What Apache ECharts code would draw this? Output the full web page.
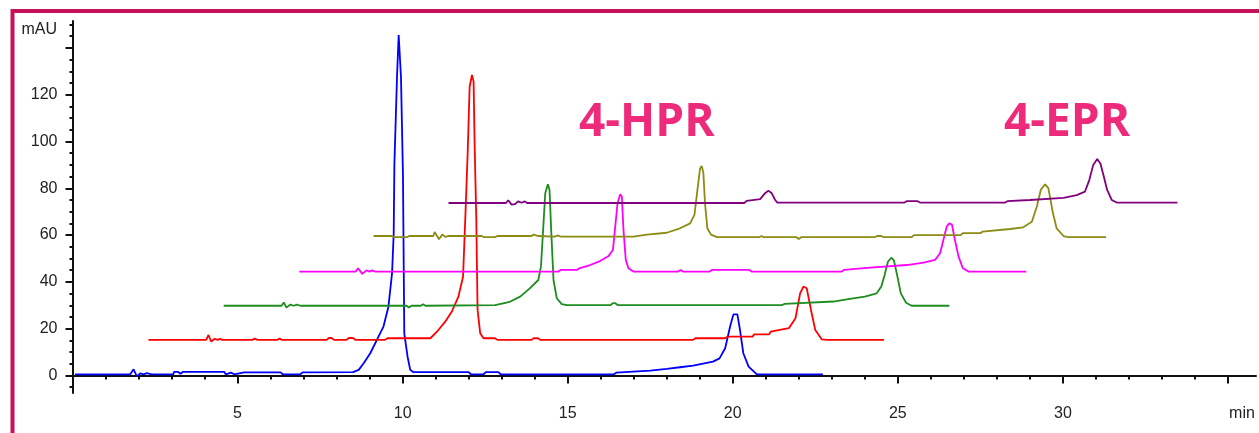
<!DOCTYPE html>
<html>
<head>
<meta charset="utf-8">
<style>
html, body { margin: 0; padding: 0; background: #fff; }
#main { width: 1259px; height: 433px; }
</style>
<script src="https://cdn.jsdelivr.net/npm/echarts@6.0.0/dist/echarts.min.js"></script>
</head>
<body>
<div id="main"></div>
<script>
// chromatogram traces, points are [time (min), signal (mAU)]
// (small steps span >= 0.07 min so the line renderer does not drop them)
let blueTrace = [
  [0.08,0.5],[1.75,0.5],[1.85,2.6],[1.95,-0.4],[2.05,0.9],[2.15,0.5],[2.25,1.0],[2.4,0.5],[3.05,0.5],[3.08,1.5],
  [3.2,1.5],[3.27,0.7],[3.34,1.5],[4.6,1.5],[4.64,0.5],[4.8,1.2],[4.9,0.5],[5.2,1.3],[6.3,1.3],[6.37,0.5],
  [6.9,0.5],[6.97,1.3],[8.5,1.4],[8.67,2.4],[8.82,5.2],[9.02,9.5],[9.22,15.2],[9.42,20.9],[9.57,29.4],[9.68,43.7],
  [9.73,60.8],[9.75,90],[9.83,127.7],[9.88,145.5],[9.93,145.5],[9.95,127.7],[10.01,85.7],[10.05,18],[10.15,8],[10.23,2.4],
  [10.33,1.4],[12.0,1.4],[12.07,0.5],[12.45,0.5],[12.52,1.4],[12.9,1.4],[12.97,0.5],[16.4,0.5],[16.47,1.2],[17.5,2.1],
  [18.0,2.8],[18.4,3.5],[18.8,4.2],[19.4,5.9],[19.6,7.3],[19.77,11.6],[19.92,20.9],[20.02,26.1],[20.14,26.1],[20.22,19.4],
  [20.32,9.5],[20.48,3.8],[20.73,0.5],[22.73,0.5]
];
let redTrace = [
  [2.3,15.2],[4.05,15.2],[4.12,17.3],[4.2,14.5],[4.3,15.6],[4.4,15.2],[4.47,15.6],[4.54,15.2],[5.45,15.2],[5.52,15.8],
  [5.6,15.2],[6.2,15.2],[6.27,15.8],[6.34,15.2],[7.7,15.2],[7.77,16],[7.85,16],[7.92,15.2],[8.3,15.2],[8.37,16],
  [8.5,16],[8.57,15.2],[9.47,15.2],[9.54,15.9],[10.84,15.9],[11.04,18.7],[11.29,23],[11.49,27.3],[11.69,33.7],[11.83,42.2],
  [11.9,67.9],[11.97,95],[12.03,123.4],[12.1,128.4],[12.15,125.6],[12.18,99.2],[12.23,67.9],[12.27,28],[12.35,18],[12.45,15.9],
  [12.8,15.9],[12.87,15.2],[13.9,15.2],[13.97,15.9],[14.1,15.9],[14.17,15.2],[18.8,15.2],[18.87,15.9],[19.77,15.9],[19.84,16.6],
  [20.6,16.6],[20.65,17.6],[21.1,17.6],[21.15,18.7],[21.7,20.2],[21.9,24.4],[22.04,35.1],[22.14,38],[22.24,37.3],[22.37,28],
  [22.5,19.4],[22.7,15.4],[22.85,15.2],[24.58,15.2]
];
let greenTrace = [
  [4.58,29.8],[6.33,29.8],[6.4,31.2],[6.48,29],[6.6,30.3],[6.7,29.8],[6.8,30.3],[6.9,29.8],[10.12,29.8],[10.19,29.0],
  [10.27,29.8],[10.55,29.8],[10.62,30.4],[10.69,29.8],[12.8,30.1],[13.25,31.5],[13.56,33.7],[13.86,37.3],[14.11,40.8],[14.19,46.5],
  [14.25,60.8],[14.32,77.9],[14.4,81.7],[14.45,79.3],[14.5,62.2],[14.57,40.8],[14.67,33],[14.82,30.5],[14.98,30.1],[16.3,30.1],
  [16.37,30.9],[16.44,30.9],[16.51,30.1],[21.5,30.1],[21.57,30.6],[23.05,31.6],[23.5,32.6],[24.0,33.7],[24.36,35.1],[24.5,38],
  [24.6,42.9],[24.7,48.6],[24.8,50.3],[24.88,49.3],[24.99,42.2],[25.09,35.1],[25.25,31.1],[25.42,29.8],[26.56,29.8]
];
let magentaTrace = [
  [6.87,44.4],[8.58,44.4],[8.65,45.8],[8.78,43.4],[8.9,44.9],[9.0,44.4],[9.07,44.9],[9.17,44.4],[14.72,44.4],[14.79,45.1],
  [15.28,45.1],[15.35,45.8],[15.68,47.2],[15.98,48.9],[16.24,51.1],[16.37,53.6],[16.44,63.6],[16.51,73.6],[16.59,77.4],[16.64,76.5],
  [16.69,62.2],[16.76,49.4],[16.84,45.8],[16.99,44.4],[18.35,44.4],[18.42,45.1],[18.49,44.4],[19.3,44.4],[19.37,45.1],[20.5,45.1],
  [20.57,44.4],[23.3,44.4],[23.37,45.1],[24.16,46.1],[25.27,47.2],[25.78,48.2],[26.13,49.4],[26.28,52.2],[26.38,57.9],[26.48,63.6],
  [26.56,65],[26.64,64.5],[26.73,57.9],[26.84,50.8],[26.97,45.8],[27.14,44.4],[28.89,44.4]
];
let oliveTrace = [
  [9.12,59.6],[9.68,59.6],[9.75,59.1],[10.13,59.1],[10.2,59.6],[10.93,59.6],[10.97,61.3],[11.1,58.2],[11.2,60.2],[11.3,59.2],
  [11.38,59.6],[12.4,59.6],[12.47,59.1],[12.8,59.1],[12.87,59.6],[13.9,59.6],[13.97,60.2],[14.1,59.6],[14.6,59.3],[14.7,59.9],
  [14.8,59.3],[17.0,59.3],[17.4,60.2],[18.0,61],[18.4,62.9],[18.71,65],[18.84,68.6],[18.93,79.3],[19.01,88.5],[19.06,89.5],
  [19.11,86.6],[19.16,73.6],[19.23,62.9],[19.34,60.2],[19.52,59.1],[20.8,59.1],[20.87,59.6],[20.94,59.1],[21.93,59.1],[22.0,58.3],
  [22.07,59.1],[24.3,59.1],[24.37,59.6],[24.5,59.6],[24.57,59.1],[25.42,59.1],[25.49,60],[26.9,60],[26.97,60.8],[27.5,60.8],
  [27.57,61.5],[28.4,62.6],[28.8,63.3],[29.06,65.7],[29.21,72.1],[29.33,79.3],[29.46,81.7],[29.56,80.1],[29.7,69.3],[29.81,62.9],
  [30.02,59.6],[30.17,59.1],[31.31,59.1]
];
let purpleTrace = [
  [11.39,73.7],[13.13,73.7],[13.2,74.9],[13.3,73],[13.4,73.2],[13.5,74.4],[13.6,73.8],[13.7,74.4],[13.77,73.7],[20.35,73.7],
  [20.42,74.6],[20.83,75.4],[20.98,77.9],[21.08,79],[21.18,77.9],[21.28,75.1],[21.35,73.9],[25.2,73.9],[25.27,74.5],[25.6,74.5],
  [25.67,73.9],[28.25,73.9],[28.32,74.5],[29.0,75],[30.02,75.9],[30.42,77.1],[30.67,78.6],[30.8,83.5],[30.92,90],[31.04,92.5],
  [31.14,90.5],[31.24,85],[31.34,79.3],[31.48,75],[31.63,73.9],[33.47,73.9]
];

let traces = [blueTrace, redTrace, greenTrace, magentaTrace, oliveTrace, purpleTrace];
let traceColors = ['#0000ff', '#ff0000', '#1e8c1e', '#ff00ff', '#8c8c14', '#800080'];

// ticks and labels
let xMajorTicks = [5, 10, 15, 20, 25, 30, 35];
let xMinorTicks = [1,2,3,4,6,7,8,9,11,12,13,14,16,17,18,19,21,22,23,24,26,27,28,29,31,32,33,34];
let xLabels = [5, 10, 15, 20, 25, 30, 35];
let yMajorTicks = [0, 20, 40, 60, 80, 100, 120, 140];
let yMinorTicks = [-5,5,10,15,25,30,35,45,50,55,65,70,75,85,90,95,105,110,115,125,130,135,145,150];
let yLabels = [0, 20, 40, 60, 80, 100, 120];
let peakNames = ['4-HPR', '4-EPR'];

let app = {};
app.chart = echarts.init(document.getElementById('main'));

let labelFont = { fontFamily: 'Liberation Sans', fontSize: 16, color: '#222' };
let axisBlack = { color: '#111', width: 2 };

let option = {
  animation: false,
  backgroundColor: '#fff',
  grid: { left: 72.5, right: 3, top: 21, bottom: 40 },
  xAxis: [{
    type: 'value', min: 0, max: 35.85, position: 'bottom',
    axisLine: { lineStyle: axisBlack },
    axisTick: { customValues: xMajorTicks, length: 8, lineStyle: axisBlack },
    axisLabel: Object.assign({
      customValues: xLabels, margin: 13,
      formatter: function (v) { return v === 35 ? '{u|min}' : String(v); },
      rich: { u: { fontFamily: 'Liberation Sans', fontSize: 16, color: '#222', padding: [0, 0, 0, 28] } }
    }, labelFont),
    splitLine: { show: false }
  }, {
    type: 'value', min: 0, max: 35.85, position: 'bottom',
    axisLine: { show: false },
    axisTick: { customValues: xMinorTicks, length: 4, lineStyle: axisBlack },
    axisLabel: { show: false },
    splitLine: { show: false }
  }],
  yAxis: [{
    type: 'value', min: -7.5, max: 151.5, position: 'left',
    axisLine: { show: true, lineStyle: axisBlack },
    axisTick: { show: true, customValues: yMajorTicks, length: 7, lineStyle: axisBlack },
    axisLabel: Object.assign({ customValues: yLabels, margin: 15 }, labelFont),
    splitLine: { show: false }
  }, {
    type: 'value', min: -7.5, max: 151.5, position: 'left',
    axisLine: { show: false },
    axisTick: { show: true, customValues: yMinorTicks, length: 3, lineStyle: axisBlack },
    axisLabel: { show: false },
    splitLine: { show: false }
  }],
  series: traces.map(function (d, i) {
    return {
      type: 'line', data: d, xAxisIndex: 0, yAxisIndex: 0,
      showSymbol: false, symbol: 'none', smooth: false,
      lineStyle: { color: traceColors[i], width: 1.8 },
      z: 2 + i
    };
  }),
  graphic: [
    { type: 'rect', shape: { x: 12.5, y: 11, width: 1300, height: 500 },
      style: { fill: 'none', stroke: '#c8115b', lineWidth: 4 }, silent: true },
    { type: 'text', x: 57, y: 30,
      style: { text: 'mAU', fill: '#222', font: '16px "Liberation Sans"', textAlign: 'right', textVerticalAlign: 'middle' } },
    { type: 'text', x: 579, y: 123,
      style: { text: peakNames[0], fill: '#ee2b7b', font: 'bold 46px "Open Sans"', textAlign: 'left', textVerticalAlign: 'middle' } },
    { type: 'text', x: 1004, y: 123,
      style: { text: peakNames[1], fill: '#ee2b7b', font: 'bold 46px "Open Sans"', textAlign: 'left', textVerticalAlign: 'middle' } }
  ]
};

app.chart.setOption(option);
</script>
</body>
</html>
